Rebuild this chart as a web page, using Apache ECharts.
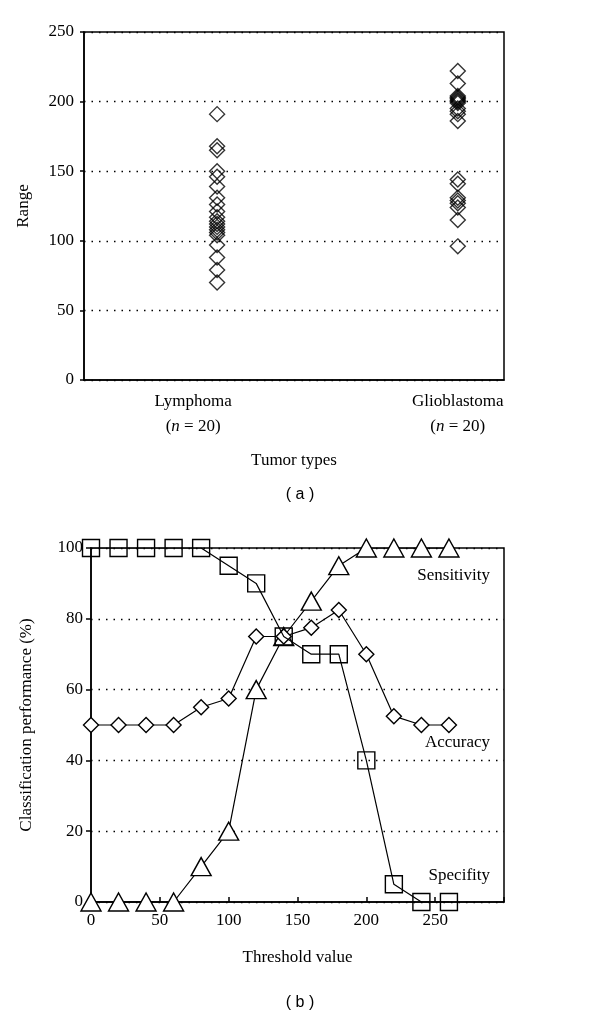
<!DOCTYPE html>
<html><head><meta charset="utf-8">
<script src="https://cdn.jsdelivr.net/npm/echarts@6/dist/echarts.min.js"></script>
<style>html,body{margin:0;padding:0;background:#fff}#c{width:600px;height:1021px}</style>
</head><body><div id="c"></div>
<script>
// ---- data ----
const tumorTypes = ['Lymphoma', 'Glioblastoma'];
const tumorN = [20, 20];
const lymphomaRange = [191,168,165,150,146,139,131,126,121,117,114,112,110,108,106,104,97,88,79,70];
const glioblastomaRange = [222,213,204,203,202,201,200,199,195,193,191,186,144,141,131,129,127,124,115,96];
const thresholds = [0,20,40,60,80,100,120,140,160,180,200,220,240,260];
const sensitivity = [0,0,0,0,10,20,60,75,85,95,100,100,100,100];
const specificity = [100,100,100,100,100,95,90,75,70,70,40,5,0,0];
const accuracy = [50,50,50,50,55,57.5,75,75,77.5,82.5,70,52.5,50,50];
const seriesNames = ['Sensitivity', 'Accuracy', 'Specifity'];

const FONT = '"Liberation Serif", "DejaVu Serif", serif';
const FS = 17;
const txt = {fontFamily: FONT, fontSize: FS, color: '#000'};

const groups = [lymphomaRange, glioblastomaRange];
const scatterData = [];
groups.forEach((arr, gi) => arr.forEach(v => scatterData.push([gi, v])));

const hollow = {color: '#fff', borderColor: '#000', borderWidth: 1.4};

const option = {
  backgroundColor: '#fff',
  animation: false,
  grid: [
    {left: 84, top: 32, width: 420, height: 348, show: true, borderColor: '#000', borderWidth: 1.5, backgroundColor: 'transparent'},
    {left: 91, top: 548, width: 413, height: 354, show: true, borderColor: '#000', borderWidth: 1.5, backgroundColor: 'transparent'}
  ],
  xAxis: [
    {gridIndex: 0, type: 'category', data: tumorTypes, boundaryGap: true,
     axisLine: {lineStyle: {color: '#000', width: 1.5}}, axisTick: {show: false},
     axisLabel: {show: false},
     name: 'Tumor types', nameLocation: 'middle', nameGap: 72, nameTextStyle: txt},
    {gridIndex: 0, type: 'value', min: -0.553, max: 1.192, show: false},
    {gridIndex: 1, type: 'value', min: 0, max: 300, interval: 50,
     axisLine: {lineStyle: {color: '#000', width: 1.5}},
     axisTick: {show: true, inside: true, length: 5, lineStyle: {color: '#000', width: 1.5}},
     splitLine: {show: false},
     axisLabel: Object.assign({margin: 10, formatter: v => v === 300 ? '' : String(v)}, txt),
     name: 'Threshold value', nameLocation: 'middle', nameGap: 47, nameTextStyle: txt}
  ],
  yAxis: [
    {gridIndex: 0, type: 'value', min: 0, max: 250, interval: 50,
     axisLine: {show: true, onZero: false, lineStyle: {color: '#000', width: 1.5}},
     axisTick: {show: true, length: 4, lineStyle: {color: '#000', width: 1.5}},
     splitLine: {show: true, lineStyle: {color: '#000', type: [1.5, 6], width: 1.3}},
     axisLabel: Object.assign({margin: 10}, txt),
     name: 'Range', nameLocation: 'middle', nameGap: 52, nameTextStyle: txt},
    {gridIndex: 1, type: 'value', min: 0, max: 100, interval: 20,
     axisLine: {show: true, onZero: false, lineStyle: {color: '#000', width: 1.5}},
     axisTick: {show: true, length: 5, lineStyle: {color: '#000', width: 1.5}},
     splitLine: {show: true, lineStyle: {color: '#000', type: [1.5, 6], width: 1.3}},
     axisLabel: Object.assign({margin: 8}, txt),
     name: 'Classification performance (%)', nameLocation: 'middle', nameGap: 56, nameTextStyle: txt}
  ],
  series: [
    {type: 'scatter', xAxisIndex: 1, yAxisIndex: 0, data: scatterData,
     symbol: 'diamond', symbolSize: [15, 15],
     itemStyle: {color: 'rgba(0,0,0,0)', borderColor: '#000', borderWidth: 1.4}},
    {type: 'line', name: seriesNames[0], xAxisIndex: 2, yAxisIndex: 1,
     data: thresholds.map((t, i) => [t, sensitivity[i]]),
     symbol: 'triangle', symbolSize: [20, 18], showAllSymbol: true,
     lineStyle: {color: '#000', width: 1.2}, itemStyle: hollow, z: 3},
    {type: 'line', name: seriesNames[1], xAxisIndex: 2, yAxisIndex: 1,
     data: thresholds.map((t, i) => [t, accuracy[i]]),
     symbol: 'diamond', symbolSize: [15, 15], showAllSymbol: true,
     lineStyle: {color: '#000', width: 1.2}, itemStyle: hollow, z: 4},
    {type: 'line', name: seriesNames[2], xAxisIndex: 2, yAxisIndex: 1,
     data: thresholds.map((t, i) => [t, specificity[i]]),
     symbol: 'rect', symbolSize: [17, 17], showAllSymbol: true,
     lineStyle: {color: '#000', width: 1.2}, itemStyle: {color: 'rgba(0,0,0,0)', borderColor: '#000', borderWidth: 1.4}, z: 5}
  ],
  graphic: [
    {type: 'text', left: 'center', top: 487, style: {text: '( a )', font: '16px "Liberation Sans", Arial, sans-serif', fill: '#000'}},
    {type: 'text', left: 'center', top: 995, style: {text: '( b )', font: '16px "Liberation Sans", Arial, sans-serif', fill: '#000'}},
    {type: 'text', right: 110, top: 567, style: {text: seriesNames[0], font: FS + 'px ' + FONT, fill: '#000'}},
    {type: 'text', right: 110, top: 734, style: {text: seriesNames[1], font: FS + 'px ' + FONT, fill: '#000'}},
    {type: 'text', right: 110, top: 867, style: {text: seriesNames[2], font: FS + 'px ' + FONT, fill: '#000'}}
  ]
};
const chart = echarts.init(document.getElementById('c'), null, {renderer: 'canvas'});
chart.setOption(option);

// category labels placed under each group's column of markers
const labelShift = [-24, 0];
const rich = {t: {fontFamily: FONT, fontSize: FS, lineHeight: 25}, i: {fontFamily: FONT, fontSize: FS, fontStyle: 'italic', lineHeight: 25}};
const extra = tumorTypes.map((name, gi) => {
  const px = chart.convertToPixel({xAxisIndex: 1}, gi) + labelShift[gi];
  return {type: 'text', x: px, y: 389, z: 10,
    style: {text: '{t|' + name + '}\n{t|(}{i|n}{t| = ' + tumorN[gi] + ')}', rich: rich, align: 'center', fill: '#000'}};
});
chart.setOption({graphic: option.graphic.concat(extra)});
</script></body></html>
